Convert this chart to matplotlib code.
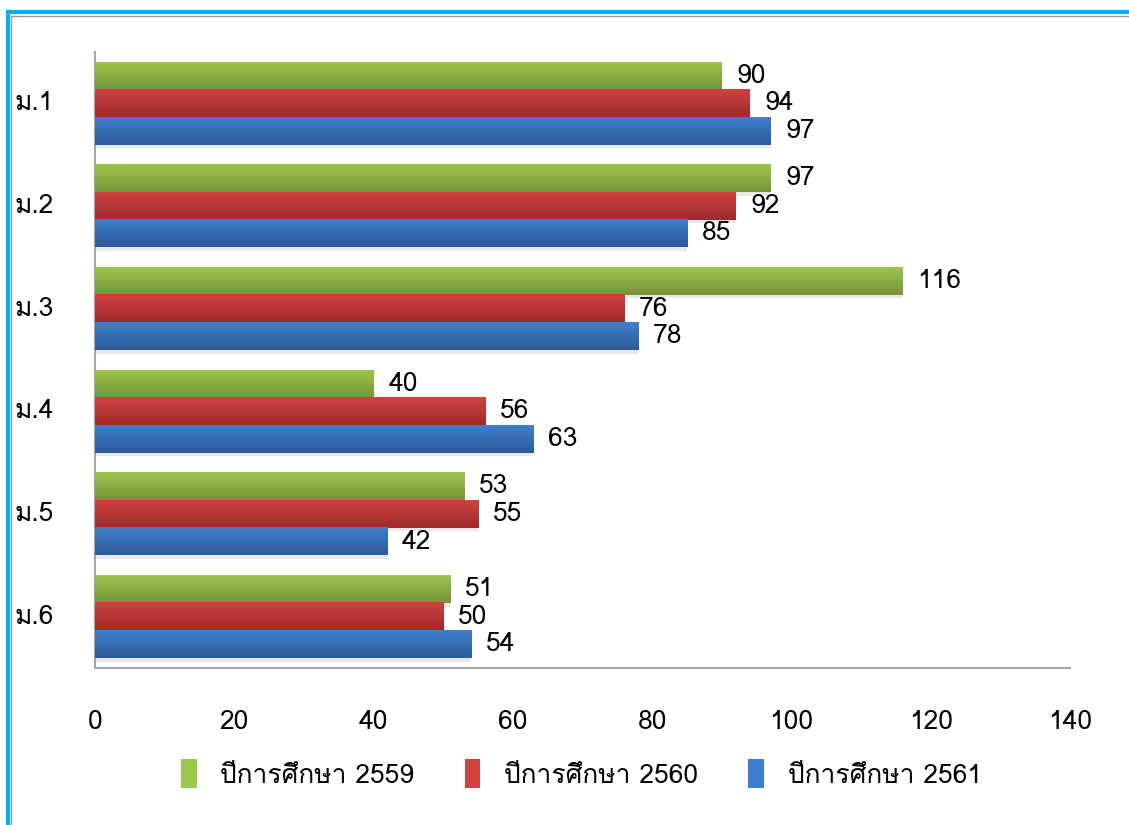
import numpy as np
import matplotlib
matplotlib.use('Agg')
import matplotlib.pyplot as plt
from matplotlib import font_manager
from matplotlib.ft2font import FT2Font
from matplotlib.colors import LinearSegmentedColormap
from matplotlib.lines import Line2D
from matplotlib.patches import Rectangle

# หาฟอนต์ที่มีอักษรไทย
thai_font = None
for f in font_manager.fontManager.ttflist:
    try:
        if FT2Font(f.fname).get_char_index(ord('ก')):
            thai_font = f.name
            break
    except Exception:
        pass
plt.rcParams['font.family'] = [thai_font, 'DejaVu Sans'] if thai_font else ['DejaVu Sans']

categories = ['ม.1', 'ม.2', 'ม.3', 'ม.4', 'ม.5', 'ม.6']
series_names = ['ปีการศึกษา 2559', 'ปีการศึกษา 2560', 'ปีการศึกษา 2561']
y2559 = [90, 97, 116, 40, 53, 51]
y2560 = [94, 92, 76, 56, 55, 50]
y2561 = [97, 85, 78, 63, 42, 54]
xticks = [0, 20, 40, 60, 80, 100, 120, 140]

series = [y2559, y2560, y2561]
light = ['#9dc64b', '#d14141', '#3e7fcd']
dark = ['#76933a', '#9e2b2b', '#2d5a98']
fs = 19

fig = plt.figure(figsize=(11.29, 8.25), dpi=100)
ax = fig.add_axes([0.0841, 0.1903, 0.8637, 0.7467])

h = 0.268
y = np.arange(len(categories))
for i, vals in enumerate(series):
    pos = y + (i - 1) * h
    # เงาใต้แท่ง
    ax.barh(pos + 0.035, vals, height=h, color='#cfcfcf', alpha=0.45, zorder=1)
    bars = ax.barh(pos, vals, height=h, color=light[i], zorder=2)
    cmap = LinearSegmentedColormap.from_list('g%d' % i, [light[i], dark[i]])
    grad = np.linspace(0, 1, 64).reshape(-1, 1)
    for b, v in zip(bars, vals):
        x0, y0 = b.get_x(), b.get_y()
        ax.imshow(grad, cmap=cmap, aspect='auto', origin='upper', zorder=3,
                  extent=(x0, x0 + b.get_width(), y0 + b.get_height(), y0))
        ax.text(v + 2.1, y0 + b.get_height() / 2, str(v), va='center', ha='left',
                fontsize=fs, color='black', zorder=4)

ax.set_xlim(0, 140)
ax.set_ylim(len(categories) - 0.5, -0.5)
ax.set_xticks(xticks)
ax.set_yticks([])
ax.tick_params(axis='x', length=0, pad=30, labelsize=fs)
for c, yy in zip(categories, y):
    ax.text(-0.082, yy, c, transform=ax.get_yaxis_transform(), ha='left', va='center',
            fontsize=fs)
for s in ['top', 'right']:
    ax.spines[s].set_visible(False)
for s in ['left', 'bottom']:
    ax.spines[s].set_color('#a6a6a6')
    ax.spines[s].set_linewidth(1.5)

leg_patches = [Rectangle((0, 0), 1, 1, facecolor=light[i]) for i in range(3)]
fig.legend(leg_patches, series_names, loc='center', bbox_to_anchor=(0.515, 0.062),
           ncol=3, frameon=False, fontsize=fs, handlelength=0.6, handleheight=1.3,
           columnspacing=1.9, handletextpad=0.9)

# กรอบด้านบนและด้านซ้าย
fig.add_artist(Line2D([0.0075, 1.0], [0.9855, 0.9855], color='#00b0f0', lw=3))
fig.add_artist(Line2D([0.0075, 0.0075], [0.0, 0.9855], color='#00b0f0', lw=3))
fig.add_artist(Line2D([0.0098, 1.0], [0.981, 0.981], color='#9a9a9a', lw=1))
fig.add_artist(Line2D([0.0098, 0.0098], [0.0, 0.981], color='#9a9a9a', lw=1))

fig.savefig('out.png', dpi=100)
